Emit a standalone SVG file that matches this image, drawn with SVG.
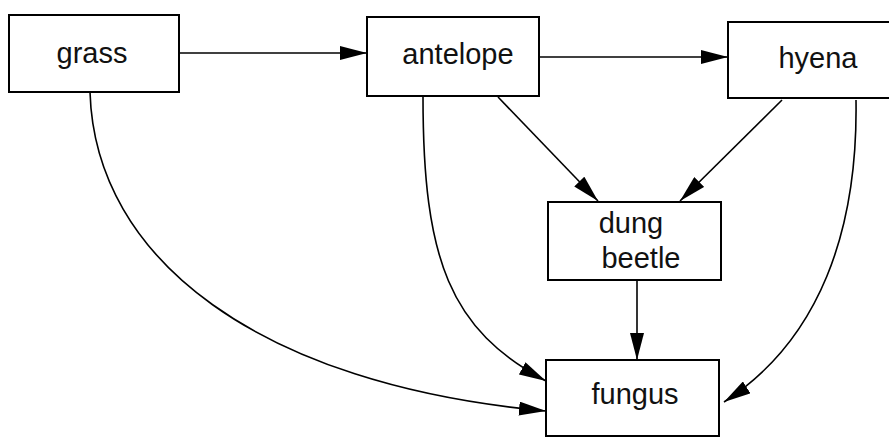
<svg xmlns="http://www.w3.org/2000/svg" width="889" height="437" viewBox="0 0 889 437">
<style>
.box{fill:#fff;stroke:#000;stroke-width:2}
.lbl{font-family:"Liberation Sans",Arial,sans-serif;font-size:29px;fill:#111;text-anchor:middle}
.edge{fill:none;stroke:#000;stroke-width:1.6;marker-end:url(#ah)}
</style>
<defs>
<marker id="ah" markerUnits="userSpaceOnUse" markerWidth="28" markerHeight="14" refX="27" refY="7" orient="auto" viewBox="0 0 28 14">
<path d="M0,0 L27,7 L0,14 z" fill="#000"/>
</marker>
</defs>
<rect width="889" height="437" fill="#fff"/>
<g id="connectors">
<path class="edge" d="M179,53 L367,53"/>
<path class="edge" d="M539,57 L728,57"/>
<path class="edge" d="M498,97 L598,201"/>
<path class="edge" d="M782,100 L680,201"/>
<path class="edge" d="M637,280 L637,360"/>
<path class="edge" d="M90,92 C95,260 260,385 546,411"/>
<path class="edge" d="M423,97 C423,260 450,330 546,381"/>
<path class="edge" d="M856,100 C858,230 820,340 724,402"/>
</g>
<g id="grass"><rect class="box" x="9" y="15" width="170" height="77"/><text class="lbl" x="92" y="63">grass</text></g>
<g id="antelope"><rect class="box" x="367" y="17" width="172" height="79"/><text class="lbl" x="458" y="64">antelope</text></g>
<g id="hyena"><rect class="box" x="728" y="22" width="200" height="76"/><text class="lbl" x="818" y="68">hyena</text></g>
<g id="dung-beetle"><rect class="box" x="548" y="202" width="173" height="78"/><text class="lbl" x="631" y="233">dung</text><text class="lbl" x="641" y="268">beetle</text></g>
<g id="fungus"><rect class="box" x="546" y="360" width="173" height="76"/><text class="lbl" x="635" y="404">fungus</text></g>
</svg>
